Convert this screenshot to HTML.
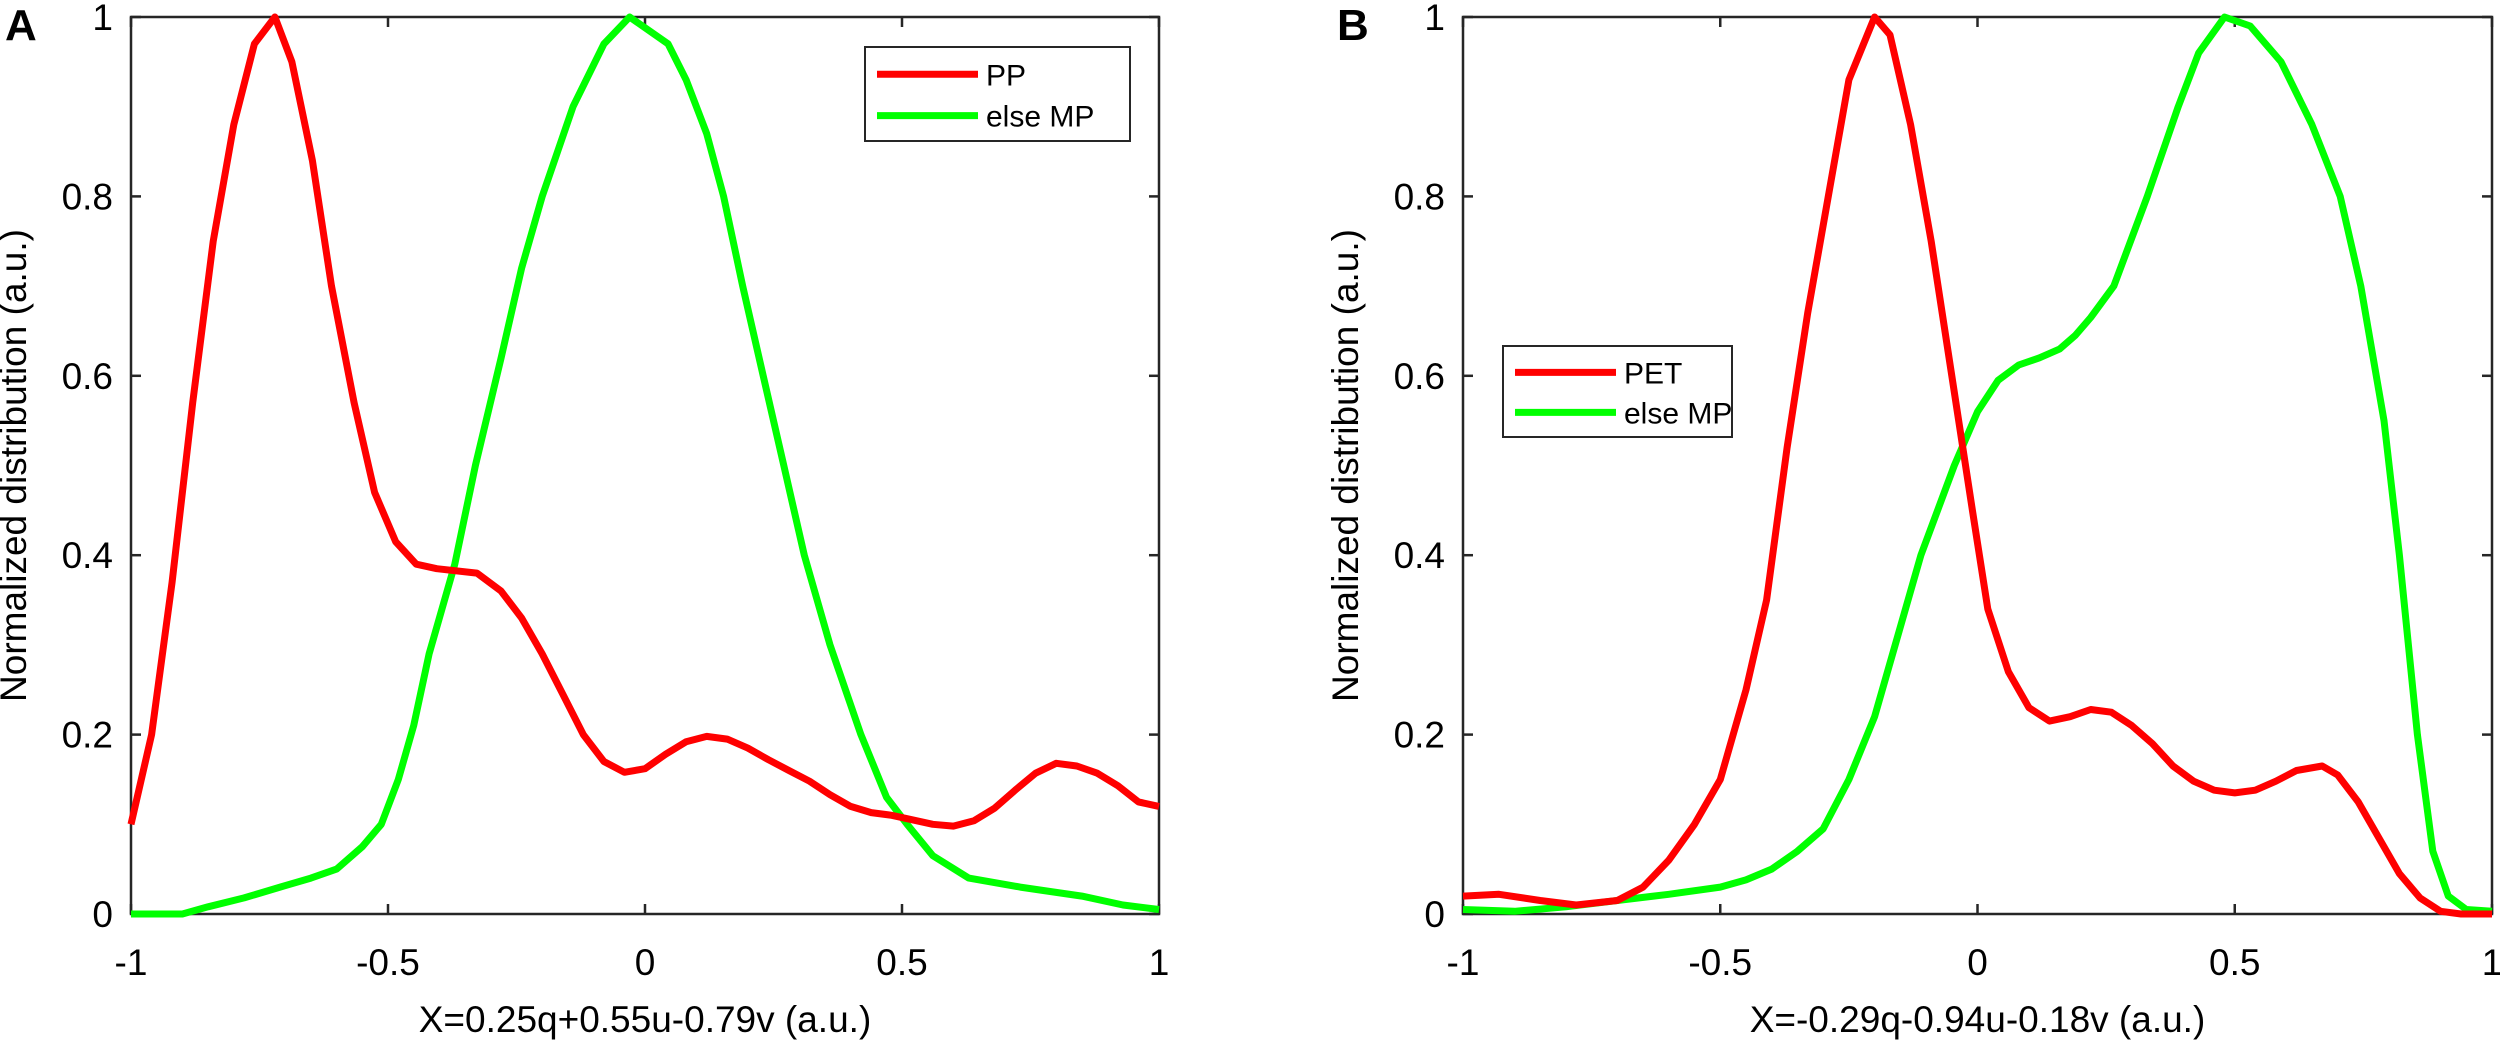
<!DOCTYPE html>
<html><head><meta charset="utf-8"><style>
html,body{margin:0;padding:0;background:#fff;}
svg text{font-family:"Liberation Sans",Arial,sans-serif;fill:#000;}
</style></head><body>
<svg id="fig" width="2500" height="1044" viewBox="0 0 2500 1044" xmlns="http://www.w3.org/2000/svg"></svg>
<script>
// Panel A data
const aRedX = [-1,-0.96,-0.92,-0.88,-0.84,-0.80,-0.76,-0.72,-0.687,-0.647,-0.61,-0.566,-0.526,-0.485,-0.445,-0.405,-0.327,-0.28,-0.24,-0.2,-0.16,-0.12,-0.08,-0.04,0,0.04,0.08,0.12,0.16,0.2,0.24,0.28,0.32,0.36,0.4,0.44,0.48,0.52,0.56,0.6,0.64,0.68,0.72,0.76,0.8,0.84,0.88,0.92,0.96,1];
const aRedY = [0.10,0.20,0.37,0.57,0.75,0.88,0.97,1.0,0.95,0.84,0.70,0.57,0.47,0.415,0.39,0.385,0.38,0.36,0.33,0.29,0.245,0.20,0.17,0.158,0.162,0.178,0.192,0.198,0.195,0.185,0.172,0.16,0.148,0.133,0.12,0.113,0.11,0.105,0.10,0.098,0.104,0.118,0.138,0.157,0.168,0.165,0.157,0.143,0.125,0.12];
const aGreenX = [-1,-0.9,-0.85,-0.78,-0.71,-0.65,-0.6,-0.55,-0.513,-0.48,-0.45,-0.42,-0.37,-0.33,-0.28,-0.24,-0.2,-0.14,-0.08,-0.03,0.045,0.08,0.12,0.153,0.19,0.23,0.27,0.31,0.36,0.42,0.47,0.51,0.56,0.63,0.73,0.85,0.93,1];
const aGreenY = [0,0,0.008,0.018,0.03,0.04,0.05,0.075,0.1,0.15,0.21,0.29,0.39,0.5,0.62,0.72,0.8,0.9,0.97,1.0,0.97,0.93,0.87,0.8,0.7,0.6,0.5,0.4,0.3,0.2,0.13,0.1,0.065,0.04,0.03,0.02,0.01,0.005];
// Panel B data
const bRedX = [-1,-0.93,-0.85,-0.78,-0.7,-0.65,-0.6,-0.55,-0.5,-0.45,-0.41,-0.37,-0.33,-0.29,-0.25,-0.2,-0.17,-0.13,-0.09,-0.05,-0.01,0.02,0.06,0.1,0.14,0.18,0.22,0.26,0.3,0.34,0.38,0.42,0.46,0.5,0.54,0.58,0.62,0.67,0.7,0.74,0.78,0.82,0.86,0.9,0.94,1];
const bRedY = [0.02,0.022,0.015,0.01,0.015,0.03,0.06,0.1,0.15,0.25,0.35,0.52,0.67,0.8,0.93,1.0,0.98,0.88,0.75,0.6,0.45,0.34,0.27,0.23,0.215,0.22,0.228,0.225,0.21,0.19,0.165,0.148,0.138,0.135,0.138,0.148,0.16,0.165,0.155,0.125,0.085,0.045,0.018,0.003,0,0];
const bGreenX = [-1,-0.9,-0.8,-0.7,-0.6,-0.5,-0.45,-0.4,-0.35,-0.3,-0.25,-0.2,-0.16,-0.11,-0.045,0,0.04,0.08,0.12,0.16,0.19,0.22,0.265,0.33,0.39,0.43,0.48,0.53,0.59,0.65,0.705,0.745,0.79,0.82,0.855,0.885,0.915,0.95,1];
const bGreenY = [0.005,0.003,0.008,0.015,0.022,0.03,0.038,0.05,0.07,0.095,0.15,0.22,0.3,0.4,0.5,0.56,0.595,0.612,0.62,0.63,0.645,0.665,0.7,0.8,0.9,0.96,1.0,0.99,0.95,0.88,0.8,0.7,0.55,0.4,0.2,0.07,0.02,0.005,0.003];
const xTicks = [-1,-0.5,0,0.5,1];
const xTickLabels = ["-1","-0.5","0","0.5","1"];
const yTicks = [0,0.2,0.4,0.6,0.8,1];
const yTickLabels = ["0","0.2","0.4","0.6","0.8","1"];

const NS = "http://www.w3.org/2000/svg";
const svg = document.getElementById('fig');
function mk(tag, attrs, parent){const e=document.createElementNS(NS,tag);for(const k in attrs)e.setAttribute(k,attrs[k]);(parent||svg).appendChild(e);return e;}
const TOP=17, BOT=914;
function ys(v){return BOT-(BOT-TOP)*v;}

function panel(id, left, right, letter, xlabel, redX, redY, greenX, greenY, legendRed, leg){
  const g=mk('g',{});
  
  
  const xs=v=>left+(right-left)*(v+1)/2;
  const box=mk('rect',{x:left,y:TOP,width:right-left,height:BOT-TOP,fill:'none',stroke:'#262626','stroke-width':2.5},g);
  
  
  xTicks.forEach((t,i)=>{
    const x=xs(t);
    mk('line',{x1:x,y1:BOT,x2:x,y2:BOT-10,stroke:'#262626','stroke-width':2.5},g);
    mk('line',{x1:x,y1:TOP,x2:x,y2:TOP+10,stroke:'#262626','stroke-width':2.5},g);
    const tx=mk('text',{x:x,y:975,'font-size':37,'text-anchor':'middle'},g);
    tx.textContent=xTickLabels[i];
    
    
  });
  yTicks.forEach((t,i)=>{
    const y=ys(t);
    mk('line',{x1:left,y1:y,x2:left+10,y2:y,stroke:'#262626','stroke-width':2.5},g);
    mk('line',{x1:right,y1:y,x2:right-10,y2:y,stroke:'#262626','stroke-width':2.5},g);
    const tx=mk('text',{x:left-18,y:y+13,'font-size':37,'text-anchor':'end'},g);
    tx.textContent=yTickLabels[i];
    
    
  });
  const pts=(X,Y)=>X.map((v,i)=>xs(v).toFixed(1)+','+ys(Y[i]).toFixed(1)).join(' ');
  const gl=mk('polyline',{points:pts(greenX,greenY),fill:'none',stroke:'#00ff00','stroke-width':7,'stroke-linejoin':'round'},g);
  
  
  const rl=mk('polyline',{points:pts(redX,redY),fill:'none',stroke:'#ff0000','stroke-width':7,'stroke-linejoin':'round'},g);
  
  
  const xl=mk('text',{x:(left+right)/2,y:1032,'font-size':37,'text-anchor':'middle'},g);
  xl.textContent=xlabel;
  
  
  const ylx=left-105, yly=(TOP+BOT)/2;
  const yl=mk('text',{x:ylx,y:yly,'font-size':37,'text-anchor':'middle',transform:'rotate(-90 '+ylx+' '+yly+')'},g);
  yl.textContent='Normalized distribution (a.u.)';
  
  
  const pl=mk('text',{x:left-126,y:40,'font-size':44,'font-weight':'bold'},g);
  pl.textContent=letter;
  
  
  // legend
  const lg=mk('g',{},g);
  
  
  mk('rect',{x:leg.x,y:leg.y,width:leg.w,height:leg.h,fill:'#fff',stroke:'#262626','stroke-width':2},lg);
  const r1=leg.y+leg.h*0.29, r2=leg.y+leg.h*0.73;
  mk('line',{x1:leg.x+12,y1:r1,x2:leg.x+113,y2:r1,stroke:'#ff0000','stroke-width':7},lg);
  mk('line',{x1:leg.x+12,y1:r2,x2:leg.x+113,y2:r2,stroke:'#00ff00','stroke-width':7},lg);
  const t1=mk('text',{x:leg.x+121,y:r1+11,'font-size':30},lg);
  t1.textContent=legendRed;
  
  
  const t2=mk('text',{x:leg.x+121,y:r2+11,'font-size':30},lg);
  t2.textContent='else MP';
  
  
}
panel('a',131,1159,'A','X=0.25q+0.55u-0.79v (a.u.)',aRedX,aRedY,aGreenX,aGreenY,'PP',{x:865,y:47,w:265,h:94});
panel('b',1463,2492,'B','X=-0.29q-0.94u-0.18v (a.u.)',bRedX,bRedY,bGreenX,bGreenY,'PET',{x:1503,y:346,w:229,h:91});
</script>
</body></html>
